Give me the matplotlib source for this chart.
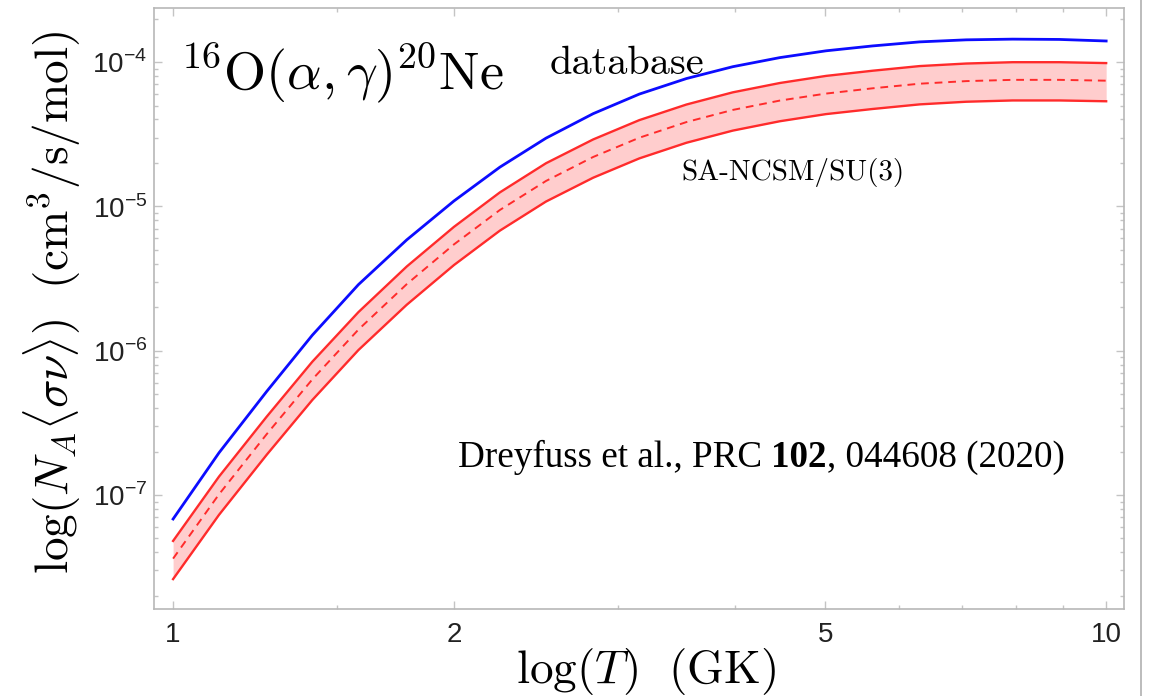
import matplotlib
matplotlib.use("Agg")
import matplotlib.pyplot as plt
from matplotlib.ticker import FixedLocator, NullFormatter
from matplotlib.lines import Line2D

# tick labels in a Helvetica-like face, formulas get math_fontfamily='cm'
plt.rcParams['font.family'] = 'Liberation Sans'
plt.rcParams['mathtext.fontset'] = 'custom'
plt.rcParams['mathtext.rm'] = 'Liberation Sans'

# temperature (GK) and reaction rates (cm^3/s/mol)
T = [1.0, 1.12, 1.26, 1.41, 1.58, 1.78, 2.0, 2.24, 2.51, 2.82, 3.16,
     3.55, 3.98, 4.47, 5.01, 5.62, 6.31, 7.08, 7.94, 8.91, 10.0]
rate_database = [6.81e-8, 1.96e-7, 5.22e-7, 1.28e-6, 2.87e-6, 5.86e-6, 1.09e-5,
                 1.87e-5, 2.97e-5, 4.39e-5, 6.00e-5, 7.69e-5, 9.29e-5, 1.074e-4,
                 1.197e-4, 1.294e-4, 1.38e-4, 1.426e-4, 1.442e-4, 1.435e-4, 1.40e-4]
rate_upper = [4.80e-8, 1.34e-7, 3.49e-7, 8.38e-7, 1.85e-6, 3.83e-6, 7.21e-6,
              1.25e-5, 1.99e-5, 2.91e-5, 3.96e-5, 5.08e-5, 6.17e-5, 7.16e-5,
              8.02e-5, 8.71e-5, 9.38e-5, 9.77e-5, 9.98e-5, 9.98e-5, 9.84e-5]
rate_mid = [3.62e-8, 1.01e-7, 2.64e-7, 6.32e-7, 1.40e-6, 2.89e-6, 5.45e-6,
            9.44e-6, 1.50e-5, 2.20e-5, 2.99e-5, 3.84e-5, 4.66e-5, 5.41e-5,
            6.05e-5, 6.58e-5, 7.08e-5, 7.38e-5, 7.53e-5, 7.53e-5, 7.43e-5]
rate_lower = [2.61e-8, 7.28e-8, 1.90e-7, 4.55e-7, 1.01e-6, 2.08e-6, 3.92e-6,
              6.79e-6, 1.08e-5, 1.58e-5, 2.15e-5, 2.76e-5, 3.35e-5, 3.89e-5,
              4.36e-5, 4.73e-5, 5.09e-5, 5.31e-5, 5.42e-5, 5.42e-5, 5.35e-5]

x_ticks = [1, 2, 5, 10]
x_tick_labels = ['1', '2', '5', '10']
x_minor = [1.5, 3, 4, 6, 7, 8, 9]
y_ticks = [1e-7, 1e-6, 1e-5, 1e-4]
y_tick_labels = [r'$10^{-7}$', r'$10^{-6}$', r'$10^{-5}$', r'$10^{-4}$']
y_minor = [k * 10.0**n for n in range(-8, -3) for k in range(2, 10)]

W, H = 1150, 696
fig = plt.figure(figsize=(W / 100, H / 100), dpi=100)
ax = fig.add_axes([154 / W, 1 - 609 / H, (1124 - 154) / W, (609 - 8) / H])

red = '#ff2b2b'
ax.fill_between(T, rate_lower, rate_upper, color='#ffcdcd', lw=0)
ax.plot(T, rate_upper, color=red, lw=1.7)
ax.plot(T, rate_lower, color=red, lw=1.7)
ax.plot(T, rate_mid, color=red, lw=1.4, ls=(0, (4, 3)))
ax.plot(T, rate_database, color='#0c0cff', lw=2.0)

ax.set_xscale('log')
ax.set_yscale('log')
ax.set_xlim(0.954, 10.45)
ax.set_ylim(1.62e-8, 2.37e-4)

ax.xaxis.set_major_locator(FixedLocator(x_ticks))
ax.set_xticklabels(x_tick_labels)
ax.xaxis.set_minor_locator(FixedLocator(x_minor))
ax.xaxis.set_minor_formatter(NullFormatter())
ax.yaxis.set_major_locator(FixedLocator(y_ticks))
ax.set_yticklabels(y_tick_labels)
ax.yaxis.set_minor_locator(FixedLocator(y_minor))
ax.yaxis.set_minor_formatter(NullFormatter())

ax.tick_params(which='both', direction='in', top=True, right=True,
               color='#c4c4c4', width=1.0, labelsize=20, labelcolor='#222222')
ax.tick_params(which='major', length=6)
ax.tick_params(which='minor', length=3)
ax.tick_params(axis='x', pad=9)
ax.tick_params(axis='y', pad=5)
for s in ax.spines.values():
    s.set_color('#b8b8b8')
    s.set_linewidth(1.2)

# annotations
fig.text(180 / W, 1 - 90 / H, r'$^{16}\mathrm{O}(\alpha,\gamma)^{20}\mathrm{Ne}$',
         fontsize=39, math_fontfamily='cm', va='baseline')
fig.text(550 / W, 1 - 74 / H, 'database', family='cmr10', fontsize=29, va='baseline')
fig.text(793 / W, 1 - 180 / H, 'SA-NCSM/SU(3)', family='cmr10', fontsize=21,
         ha='center', va='baseline')

# reference line: plain / bold / plain pieces placed one after another
renderer = fig.canvas.get_renderer()
ref_parts = [('Dreyfuss et al., PRC', 'normal', 9), ('102', 'bold', 0),
             (', 044608 (2020)', 'normal', 0)]
x_px = 458
for txt, wt, gap in ref_parts:
    t = fig.text(x_px / W, 1 - 467 / H, txt, family='Liberation Serif',
                 fontsize=26.7, weight=wt, va='baseline')
    x_px = t.get_window_extent(renderer).x1 + gap

fig.text(52 / W, 1 - 302 / H,
         r'$\log(N_A\langle\sigma\nu\rangle)\ \ (\mathrm{cm}^3/\mathrm{s}/\mathrm{mol})$',
         fontsize=34, math_fontfamily='cm', rotation=90, ha='center', va='center')
fig.text(646 / W, 1 - 683 / H, r'$\log(T)\ \ (\mathrm{GK})$',
         fontsize=34, math_fontfamily='cm', ha='center', va='baseline')

# slide border on the right
fig.add_artist(Line2D([1141 / W, 1141 / W], [0, 1], color='#b0b0b0', lw=1.2,
                      transform=fig.transFigure))

fig.savefig('out.png', dpi=100)
